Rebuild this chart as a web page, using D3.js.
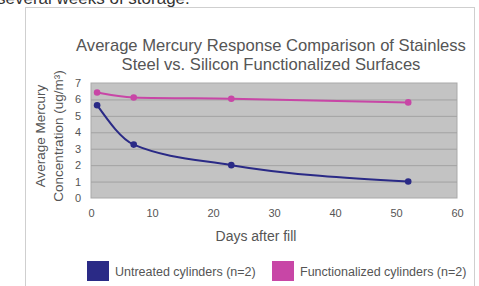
<!DOCTYPE html>
<html>
<head>
<meta charset="utf-8">
<script src="https://cdn.jsdelivr.net/npm/d3@7"></script>
<style>
  body { margin: 0; background: #fff; }
  svg { display: block; font-family: "Liberation Sans", Arial, sans-serif; }
</style>
</head>
<body>
<svg id="chart" width="479" height="286"></svg>
<script>
// data
const days         = [1, 7, 23, 52];
const untreated    = [5.65, 3.25, 2.0, 1.0];
const functional   = [6.42, 6.12, 6.04, 5.82];
const xTicks       = [0, 10, 20, 30, 40, 50, 60];
const yTicks       = [0, 1, 2, 3, 4, 5, 6, 7];
const seriesNames  = ["Untreated cylinders (n=2)", "Functionalized cylinders (n=2)"];
const seriesColors = ["#2a2a86", "#c846a6"];

const svg = d3.select("#chart");

// page text cut off above the chart frame
svg.append("text")
  .attr("x", -3).attr("y", 4)
  .attr("font-size", 17).attr("fill", "#333")
  .text("several weeks of storage.");

// chart frame
svg.append("rect")
  .attr("x", 25.5).attr("y", 7.5)
  .attr("width", 449).attr("height", 290)
  .attr("fill", "#fff").attr("stroke", "#cfcfcf");

// title
const title = svg.append("text")
  .attr("text-anchor", "middle").attr("font-size", 16.6).attr("fill", "#555");
title.append("tspan").attr("x", 271).attr("y", 51).text("Average Mercury Response Comparison of Stainless");
title.append("tspan").attr("x", 271).attr("y", 70).text("Steel vs. Silicon Functionalized Surfaces");

// scales
const plot = { left: 91, top: 83, right: 457, bottom: 198 };
const x = d3.scaleLinear().domain([0, 60]).range([plot.left, plot.right]);
const y = d3.scaleLinear().domain([0, 7]).range([plot.bottom, plot.top]);

// plot background
svg.append("rect")
  .attr("x", plot.left).attr("y", plot.top)
  .attr("width", plot.right - plot.left).attr("height", plot.bottom - plot.top)
  .attr("fill", "#c3c3c3").attr("stroke", "#a9a9a9");

// gridlines
svg.append("g")
  .selectAll("line")
  .data(yTicks.slice(1, -1))
  .join("line")
    .attr("x1", plot.left).attr("x2", plot.right)
    .attr("y1", d => y(d) + 0.5).attr("y2", d => y(d) + 0.5)
    .attr("stroke", "#a2a2a2");

// axes
const xAxis = svg.append("g")
  .attr("transform", `translate(0,${plot.bottom})`)
  .call(d3.axisBottom(x).tickValues(xTicks).tickFormat(d3.format("d")).tickSize(0).tickPadding(11));
const yAxis = svg.append("g")
  .attr("transform", `translate(${plot.left},0)`)
  .call(d3.axisLeft(y).tickValues(yTicks).tickFormat(d3.format("d")).tickSize(0).tickPadding(10));
[xAxis, yAxis].forEach(a => {
  a.select(".domain").remove();
  a.selectAll("text").attr("font-size", 11).attr("fill", "#555")
    .attr("font-family", "Liberation Sans, Arial, sans-serif");
});

// axis titles
svg.append("text")
  .attr("x", 256).attr("y", 241)
  .attr("text-anchor", "middle").attr("font-size", 14).attr("fill", "#555")
  .text("Days after fill");

const yt = svg.append("text")
  .attr("transform", "translate(0,136) rotate(-90)")
  .attr("text-anchor", "middle").attr("font-size", 13.5).attr("fill", "#555");
yt.append("tspan").attr("x", 0).attr("y", 45).text("Average Mercury");
yt.append("tspan").attr("x", 0).attr("y", 63).text("Concentration (ug/m\u00b3)");

// lines + markers
const line = d3.line()
  .x(d => x(d[0])).y(d => y(d[1]))
  .curve(d3.curveMonotoneX);

[untreated, functional].forEach((vals, i) => {
  const pts = days.map((d, j) => [d, vals[j]]);
  svg.append("path")
    .datum(pts)
    .attr("d", line)
    .attr("fill", "none")
    .attr("stroke", seriesColors[i])
    .attr("stroke-width", 2);
  svg.append("g")
    .selectAll("circle")
    .data(pts)
    .join("circle")
      .attr("cx", d => x(d[0])).attr("cy", d => y(d[1]))
      .attr("r", 3.3)
      .attr("fill", seriesColors[i]);
});

// legend
const legendX = [87, 272];
const legend = svg.append("g")
  .selectAll("g")
  .data(seriesNames)
  .join("g")
    .attr("transform", (d, i) => `translate(${legendX[i]},261)`);
legend.append("rect")
  .attr("width", 22).attr("height", 20)
  .attr("fill", (d, i) => seriesColors[i]);
legend.append("text")
  .attr("x", 28).attr("y", 15)
  .attr("font-size", 12.5).attr("fill", "#555")
  .text(d => d);
</script>
</body>
</html>
